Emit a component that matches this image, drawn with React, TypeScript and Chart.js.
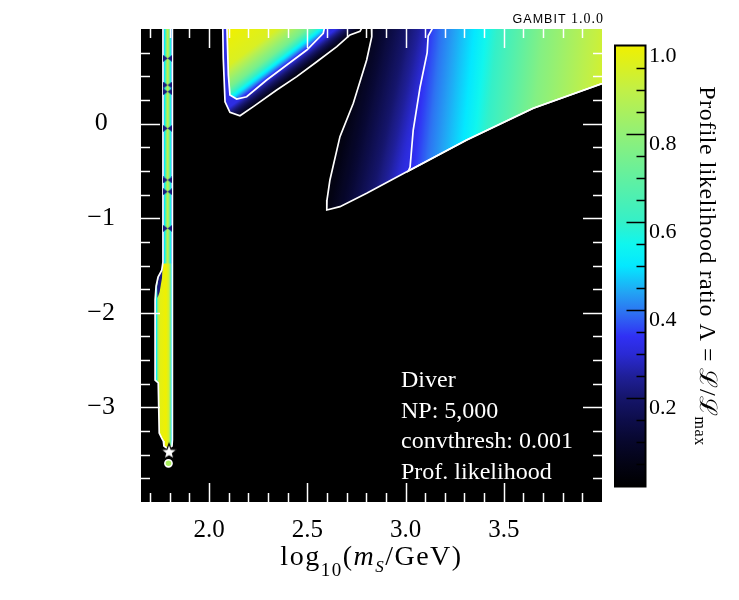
import React, { useEffect, useRef } from 'react';
import { Chart, registerables } from 'chart.js';

Chart.register(...registerables);

const SERIF = '"Liberation Serif", "DejaVu Serif", serif';
const SANS = '"Liberation Sans", "DejaVu Sans", sans-serif';

// Axes: log10(m_S / GeV) horizontally, log10(lambda_hS) vertically
const X_RANGE = [Math.log10(45), 4.0];
const Y_RANGE = [-4, 1];
const X_TICKS = [2.0, 2.5, 3.0, 3.5];
const X_TICK_LABELS = ['2.0', '2.5', '3.0', '3.5'];
const Y_TICKS = [-3, -2, -1, 0];
const Y_TICK_LABELS = ['\u22123', '\u22122', '\u22121', '0'];
const CB_TICKS = [0.2, 0.4, 0.6, 0.8, 1.0];
const CB_TICK_LABELS = ['0.2', '0.4', '0.6', '0.8', '1.0'];

// Colour map for the profile likelihood ratio
const LAMBDA_LEVELS = [0, 0.05, 0.1, 0.15, 0.2, 0.25, 0.3, 0.34, 0.39, 0.44, 0.5, 0.55, 0.6, 0.7, 0.8, 0.9, 1.0];
const LAMBDA_COLORS = [
  '#000000', '#030314', '#07072c', '#0d0d4a', '#15156a', '#1f1f98', '#2a2ad4', '#3030f4',
  '#2e6cf2', '#22a4f4', '#04e8ff', '#10f6ee', '#34f0c8', '#62f0a0', '#92f076', '#c2f046', '#f0f000',
];

// Contour levels: 2σ (outer) and 1σ (inner), points are [log10 mS, log10 λhS]
type P = [number, number];
type Profile = [number, number][];

// upper-left island
const TL_OUTER: P[] = [
  [2.069, 1.06], [2.072, 0.69], [2.081, 0.231], [2.106, 0.119], [2.157, 0.083], [2.225, 0.179],
  [2.344, 0.355], [2.446, 0.496], [2.548, 0.654], [2.65, 0.813], [2.717, 0.937], [2.768, 0.975], [2.79, 1.06],
];
const TL_INNER: P[] = [
  [2.09, 1.06], [2.098, 0.514], [2.106, 0.302], [2.14, 0.26], [2.191, 0.284], [2.293, 0.461],
  [2.395, 0.619], [2.497, 0.778], [2.581, 0.955], [2.592, 1.06],
];
// likelihood profile across the island: [fraction along axis, Λ]
const TL_OUTER_AXIS: P[] = [[2.269, 0.244], [2.227, 0.363]];
const TL_OUTER_PROFILE: Profile = [[0, 0.045], [0.45, 0.16], [1, 0.317]];
const TL_INNER_AXIS: P[] = [[2.227, 0.363], [2.037, 0.887]];
const TL_INNER_PROFILE: Profile = [[0, 0.317], [0.13, 0.55], [0.26, 0.74], [0.55, 0.95], [1, 1.0]];

// high-mass wedge
const WEDGE_LEFT: P[] = [
  [2.826, 1.06], [2.828, 0.919], [2.802, 0.672], [2.734, 0.215], [2.666, -0.138], [2.615, -0.596],
  [2.6, -0.808], [2.599, -0.913],
];
const WEDGE_EDGE: P[] = [
  [2.599, -0.913], [2.666, -0.878], [2.802, -0.737], [3.006, -0.508], [3.311, -0.173], [3.65, 0.162], [4.06, 0.468],
];
const WEDGE_INNER: P[] = [
  [3.137, 1.06], [3.135, 1.0], [3.115, 0.926], [3.11, 0.751], [3.074, 0.387], [3.039, -0.068],
  [3.023, -0.459], [3.014, -0.501],
];
const WEDGE_OUTER_AXIS: P[] = [[2.7, 0.038], [3.036, -0.108]];
const WEDGE_OUTER_PROFILE: Profile = [[0, 0.045], [0.3, 0.12], [0.6, 0.2], [0.9, 0.29], [1, 0.317]];
const WEDGE_INNER_AXIS: P[] = [[3.036, -0.108], [3.994, -0.309]];
const WEDGE_INNER_PROFILE: Profile = [[0, 0.317], [0.1, 0.4], [0.27, 0.5], [0.39, 0.6], [0.63, 0.77], [1, 0.95]];

// Higgs-funnel strip near m_S = m_h / 2
const STRIP_OUTLINE: P[] = [
  [1.765, 1.06], [1.765, -1.464], [1.759, -1.549], [1.74, -1.623], [1.73, -1.718], [1.725, -1.866],
  [1.725, -2.712], [1.741, -2.742], [1.746, -3.271], [1.758, -3.323], [1.767, -3.355], [1.77, -3.408],
  [1.79, -3.44], [1.811, -3.408], [1.813, -3.345], [1.813, 1.06],
];
const STRIP_THIN: P[] = [[1.765, 1.06], [1.765, -1.48], [1.813, -1.48], [1.813, 1.06]];
const STRIP_WIDE_AXIS: P[] = [[1.725, 0], [1.813, 0]];
const STRIP_WIDE_PROFILE: Profile = [
  [0, 0.3], [0.086, 0.55], [0.17, 0.85], [0.29, 0.97], [0.63, 1.0], [0.8, 0.93], [0.886, 0.75], [0.943, 0.5], [1, 0.3],
];
const STRIP_THIN_AXIS: P[] = [[1.765, 0], [1.813, 0]];
const STRIP_THIN_PROFILE: Profile = [[0, 0.3], [0.15, 0.5], [0.35, 0.76], [0.5, 0.9], [0.65, 0.76], [0.85, 0.5], [1, 0.3]];
const STRIP_PATCH: P[] = [[1.763, -1.505], [1.745, -1.6], [1.735, -1.727], [1.737, -1.843], [1.748, -1.78], [1.76, -1.632]];
const STRIP_PATCH_LAMBDA = 0.22;
const PINCH_X = 1.789;
const PINCH_Y = [0.69, 0.408, 0.337, -0.05, -0.596, -0.72, -1.107];

const BEST_FIT: P = [1.796, -3.468];
const ISLET: P = [1.793, -3.591];
const ISLET_LAMBDA = 0.85;

const INFO_LINES = ['Diver', 'NP: 5,000', 'convthresh: 0.001', 'Prof. likelihood'];

function hexRgb(h: string): number[] {
  return [1, 3, 5].map((i) => parseInt(h.slice(i, i + 2), 16));
}

function cmap(v: number): string {
  const l = Math.max(0, Math.min(1, v));
  let k = 0;
  while (k < LAMBDA_LEVELS.length - 2 && l > LAMBDA_LEVELS[k + 1]) k++;
  const f = (l - LAMBDA_LEVELS[k]) / (LAMBDA_LEVELS[k + 1] - LAMBDA_LEVELS[k]);
  const a = hexRgb(LAMBDA_COLORS[k]);
  const b = hexRgb(LAMBDA_COLORS[k + 1]);
  const c = a.map((q, i) => Math.round(q + (b[i] - q) * f));
  return `rgb(${c[0]},${c[1]},${c[2]})`;
}

function fieldGradient(chart: any, axis: P[], profile: Profile) {
  const { ctx, scales } = chart;
  const x0 = scales.x.getPixelForValue(axis[0][0]);
  const y0 = scales.y.getPixelForValue(axis[0][1]);
  const x1 = scales.x.getPixelForValue(axis[1][0]);
  const y1 = scales.y.getPixelForValue(axis[1][1]);
  const g = ctx.createLinearGradient(x0, y0, x1, y1);
  for (let k = 0; k < profile.length - 1; k++) {
    const [t0, l0] = profile[k];
    const [t1, l1] = profile[k + 1];
    for (let s = 0; s < 8; s++) {
      const f = s / 8;
      g.addColorStop(t0 + (t1 - t0) * f, cmap(l0 + (l1 - l0) * f));
    }
  }
  const last = profile[profile.length - 1];
  g.addColorStop(last[0], cmap(last[1]));
  return g;
}

const pts = (a: P[]) => a.map(([x, y]) => ({ x, y }));

function region(data: P[], order: number, fill: (c: any) => any) {
  return {
    type: 'line',
    data: pts(data),
    order,
    fill: 'shape',
    backgroundColor: (c: any) => (c.chart.chartArea ? fill(c.chart) : 'rgba(0,0,0,0)'),
    borderColor: 'rgba(0,0,0,0)',
    borderWidth: 0,
    pointRadius: 0,
    tension: 0,
  };
}

function contour(data: P[], order: number) {
  return {
    type: 'line',
    data: pts(data),
    order,
    fill: false,
    borderColor: '#ffffff',
    borderWidth: 1.7,
    pointRadius: 0,
    tension: 0,
  };
}

function makePinch(): HTMLCanvasElement {
  const c = document.createElement('canvas');
  c.width = 9;
  c.height = 7;
  const g = c.getContext('2d')!;
  g.fillStyle = cmap(0.22);
  g.beginPath(); g.moveTo(0, 0); g.lineTo(4.5, 3.5); g.lineTo(0, 7); g.closePath(); g.fill();
  g.beginPath(); g.moveTo(9, 0); g.lineTo(4.5, 3.5); g.lineTo(9, 7); g.closePath(); g.fill();
  return c;
}

function makeStar(): HTMLCanvasElement {
  const c = document.createElement('canvas');
  c.width = 22;
  c.height = 22;
  const g = c.getContext('2d')!;
  g.translate(11, 11.5);
  g.beginPath();
  for (let k = 0; k < 10; k++) {
    const r = k % 2 ? 3.6 : 8.5;
    const a = -Math.PI / 2 + (k * Math.PI) / 5;
    g.lineTo(r * Math.cos(a), r * Math.sin(a));
  }
  g.closePath();
  g.fillStyle = '#ffffff';
  g.fill();
  g.lineWidth = 1.2;
  g.strokeStyle = '#000000';
  g.stroke();
  return c;
}

type Run = { t: string; font: string; dy?: number };

function runsWidth(ctx: CanvasRenderingContext2D, runs: Run[]) {
  let w = 0;
  for (const r of runs) {
    ctx.font = r.font;
    w += ctx.measureText(r.t).width;
  }
  return w;
}

function drawRuns(ctx: CanvasRenderingContext2D, runs: Run[], x: number, y: number) {
  let cx = x;
  for (const r of runs) {
    ctx.font = r.font;
    ctx.fillText(r.t, cx, y + (r.dy || 0));
    cx += ctx.measureText(r.t).width;
  }
}

// colour bar frame (pixels)
const CB = { left: 615, right: 645.5, top: 45.5, bottom: 486.5 };

const decor = {
  id: 'decor',
  beforeDatasetsDraw(chart: any) {
    const { ctx, chartArea: a } = chart;
    ctx.save();
    ctx.fillStyle = '#000000';
    ctx.fillRect(a.left, a.top, a.right - a.left, a.bottom - a.top);
    ctx.restore();
  },
  afterDatasetsDraw(chart: any) {
    const { ctx, chartArea: a, scales } = chart;
    ctx.save();
    ctx.strokeStyle = '#ffffff';
    ctx.lineWidth = 1.5;
    const seg = (x1: number, y1: number, x2: number, y2: number) => {
      ctx.beginPath();
      ctx.moveTo(x1, y1);
      ctx.lineTo(x2, y2);
      ctx.stroke();
    };
    for (let i = 17; i <= 39; i++) {
      const v = i / 10;
      const major = X_TICKS.some((t) => Math.abs(t - v) < 1e-6);
      const len = major ? 19 : 9;
      const px = Math.round(scales.x.getPixelForValue(v)) + 0.5;
      seg(px, a.bottom, px, a.bottom - len);
      seg(px, a.top, px, a.top + len);
    }
    for (let i = -15; i <= 3; i++) {
      const v = i / 4;
      const major = Y_TICKS.some((t) => Math.abs(t - v) < 1e-6);
      const len = major ? 19 : 9;
      const py = Math.round(scales.y.getPixelForValue(v)) + 0.5;
      seg(a.left, py, a.left + len, py);
      seg(a.right, py, a.right - len, py);
    }
    // annotation block
    ctx.fillStyle = '#ffffff';
    ctx.font = `24px ${SERIF}`;
    ctx.textAlign = 'left';
    ctx.textBaseline = 'alphabetic';
    INFO_LINES.forEach((s, i) => ctx.fillText(s, 401, 387 + i * 30.7));
    ctx.restore();
  },
  afterDraw(chart: any) {
    const { ctx, chartArea: a } = chart;
    ctx.save();
    // colour bar
    const h = CB.bottom - CB.top;
    const g = ctx.createLinearGradient(0, CB.bottom, 0, CB.top);
    for (let k = 0; k < LAMBDA_LEVELS.length; k++) g.addColorStop(LAMBDA_LEVELS[k], LAMBDA_COLORS[k]);
    ctx.fillStyle = g;
    ctx.fillRect(CB.left, CB.top, CB.right - CB.left, h);
    ctx.strokeStyle = '#000000';
    ctx.lineWidth = 1.5;
    for (let i = 1; i < 20; i++) {
      const v = i / 20;
      const major = CB_TICKS.some((t) => Math.abs(t - v) < 1e-6);
      const len = major ? 19 : 9;
      const py = Math.round(CB.bottom - v * h) + 0.5;
      ctx.beginPath();
      ctx.moveTo(CB.right, py);
      ctx.lineTo(CB.right - len, py);
      ctx.stroke();
    }
    ctx.lineWidth = 2;
    ctx.strokeRect(CB.left, CB.top, CB.right - CB.left, h);
    ctx.fillStyle = '#000000';
    ctx.font = `22px ${SERIF}`;
    ctx.textAlign = 'left';
    ctx.textBaseline = 'alphabetic';
    CB_TICKS.forEach((v, i) => ctx.fillText(CB_TICK_LABELS[i], 649, CB.bottom - v * h + 16));

    // colour bar title, read top to bottom
    const cbRuns: Run[] = [
      { t: 'Profile likelihood ratio \u039B = \u2112/\u2112', font: `24px ${SERIF}` },
      { t: 'max', font: `16px ${SERIF}`, dy: 5 },
    ];
    ctx.save();
    ctx.translate(700, (CB.top + CB.bottom) / 2);
    ctx.rotate(Math.PI / 2);
    ctx.letterSpacing = '0.5px';
    const cw = runsWidth(ctx, cbRuns);
    drawRuns(ctx, cbRuns, -cw / 2, 0);
    ctx.restore();

    // x axis title
    const xRuns: Run[] = [
      { t: 'log', font: `28px ${SERIF}` },
      { t: '10', font: `19px ${SERIF}`, dy: 11 },
      { t: '(', font: `28px ${SERIF}` },
      { t: 'm', font: `italic 28px ${SERIF}` },
      { t: 'S', font: `italic 17px ${SERIF}`, dy: 7 },
      { t: '/GeV)', font: `28px ${SERIF}` },
    ];
    ctx.letterSpacing = '1.5px';
    const xw = runsWidth(ctx, xRuns);
    drawRuns(ctx, xRuns, (a.left + a.right) / 2 - xw / 2, 565);

    // version stamp
    const stamp: Run[] = [
      { t: 'GAMBIT ', font: `12.5px ${SANS}` },
      { t: '1.0.0', font: `14px ${SERIF}` },
    ];
    ctx.letterSpacing = '1px';
    const sw = runsWidth(ctx, stamp);
    drawRuns(ctx, stamp, 604 - sw, 23);
    ctx.letterSpacing = '0px';
    ctx.restore();
  },
};

export default function App() {
  const ref = useRef<HTMLCanvasElement>(null);

  useEffect(() => {
    const pinch = makePinch();
    const star = makeStar();

    const datasets: any[] = [
      {
        type: 'scatter',
        data: pts([BEST_FIT]),
        order: 0,
        pointStyle: star,
        pointRadius: 10,
      },
      {
        type: 'scatter',
        data: pts([ISLET]),
        order: 1,
        pointStyle: 'circle',
        pointRadius: 3.6,
        backgroundColor: cmap(ISLET_LAMBDA),
        borderColor: '#ffffff',
        borderWidth: 1.6,
      },
      {
        type: 'scatter',
        data: PINCH_Y.map((y) => ({ x: PINCH_X, y })),
        order: 2,
        pointStyle: pinch,
        pointRadius: 5,
      },
      contour(TL_OUTER, 3),
      contour(TL_INNER, 3),
      contour([...WEDGE_LEFT, ...WEDGE_EDGE.slice(1)], 3),
      contour([...WEDGE_INNER, ...WEDGE_EDGE.filter((p) => p[0] > 3.014)], 3),
      contour([...STRIP_OUTLINE, STRIP_OUTLINE[0]], 3),
      region(STRIP_PATCH, 4, () => cmap(STRIP_PATCH_LAMBDA)),
      region(STRIP_THIN, 5, (ch) => fieldGradient(ch, STRIP_THIN_AXIS, STRIP_THIN_PROFILE)),
      region(STRIP_OUTLINE, 6, (ch) => fieldGradient(ch, STRIP_WIDE_AXIS, STRIP_WIDE_PROFILE)),
      region(TL_INNER, 7, (ch) => fieldGradient(ch, TL_INNER_AXIS, TL_INNER_PROFILE)),
      region(TL_OUTER, 8, (ch) => fieldGradient(ch, TL_OUTER_AXIS, TL_OUTER_PROFILE)),
      region(
        [...WEDGE_INNER, ...WEDGE_EDGE.filter((p) => p[0] > 3.014), [4.06, 1.06]],
        9,
        (ch) => fieldGradient(ch, WEDGE_INNER_AXIS, WEDGE_INNER_PROFILE),
      ),
      region(
        [...WEDGE_LEFT, ...WEDGE_EDGE.slice(1), [4.06, 1.06]],
        10,
        (ch) => fieldGradient(ch, WEDGE_OUTER_AXIS, WEDGE_OUTER_PROFILE),
      ),
    ];

    const chart = new Chart(ref.current!, {
      type: 'scatter',
      data: { datasets },
      options: {
        animation: false,
        responsive: false,
        devicePixelRatio: 1,
        events: [],
        layout: { padding: { left: 0, top: 29, right: 137, bottom: 0 } },
        plugins: {
          legend: { display: false },
          tooltip: { enabled: false },
        },
        scales: {
          x: {
            type: 'linear',
            min: X_RANGE[0],
            max: X_RANGE[1],
            grid: { display: false, drawTicks: false, tickLength: 0 },
            border: { display: false },
            afterBuildTicks: (s: any) => {
              s.ticks = X_TICKS.map((value) => ({ value }));
            },
            afterFit: (s: any) => {
              s.height = 98;
              s.paddingLeft = 0;
              s.paddingRight = 0;
            },
            ticks: {
              autoSkip: false,
              maxRotation: 0,
              padding: 13,
              color: '#000000',
              font: { family: SERIF, size: 25 },
              callback: (v: any) => X_TICK_LABELS[X_TICKS.indexOf(Number(v))] ?? '',
            },
          },
          y: {
            type: 'linear',
            min: Y_RANGE[0],
            max: Y_RANGE[1],
            grid: { display: false, drawTicks: false, tickLength: 0 },
            border: { display: false },
            afterBuildTicks: (s: any) => {
              s.ticks = Y_TICKS.map((value) => ({ value }));
            },
            afterFit: (s: any) => {
              s.width = 141;
              s.paddingTop = 0;
              s.paddingBottom = 0;
            },
            ticks: {
              autoSkip: false,
              crossAlign: 'center',
              padding: 26,
              color: '#000000',
              font: { family: SERIF, size: 26 },
              callback: (v: any) => Y_TICK_LABELS[Y_TICKS.indexOf(Number(v))] ?? '',
            },
          },
        },
      } as any,
      plugins: [decor],
    } as any);

    return () => chart.destroy();
  }, []);

  return (
    <div style={{ position: 'absolute', left: 0, top: 0, width: 739, height: 600, background: '#ffffff' }}>
      <canvas ref={ref} width={739} height={600} style={{ display: 'block', width: 739, height: 600 }} />
    </div>
  );
}
